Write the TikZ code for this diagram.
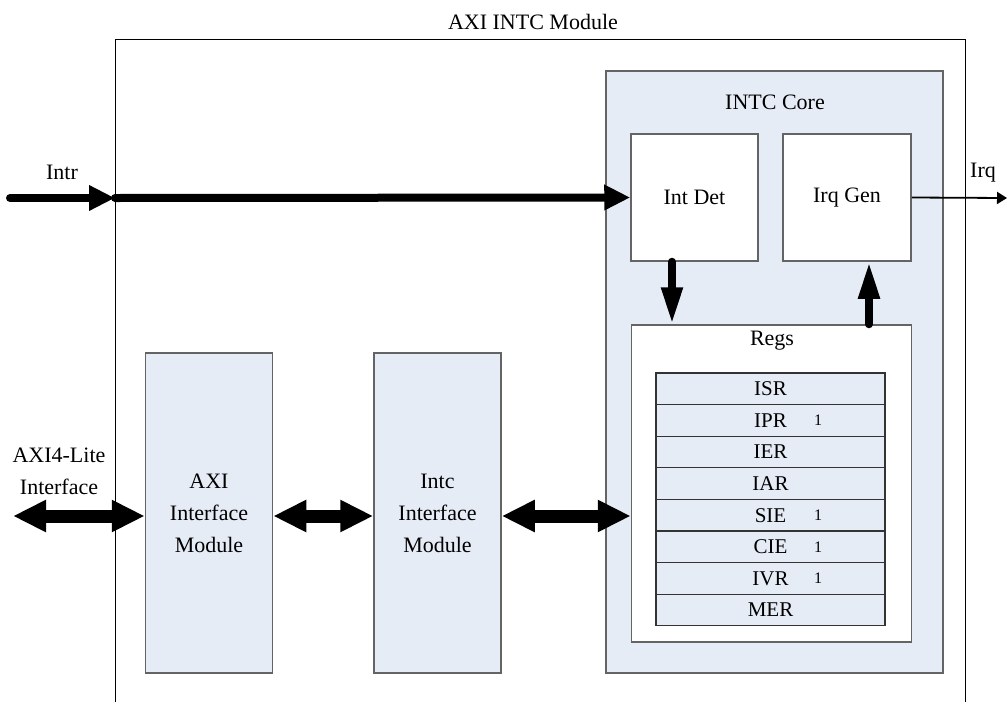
\documentclass[tikz,border=0pt]{standalone}
\usepackage{fontspec}
\setmainfont{Liberation Serif}
\usetikzlibrary{arrows.meta}
\definecolor{boxblue}{RGB}{230,236,246}
\definecolor{boxline}{RGB}{100,100,100}
\begin{document}
\begin{tikzpicture}[x=1pt,y=-1pt,
  lbl/.style={font=\fontsize{22}{32}\selectfont, align=center, inner sep=0pt},
  bluebox/.style={draw=boxline, line width=1.5pt, fill=boxblue, inner sep=0pt},
  whitebox/.style={draw=boxline, line width=1.5pt, fill=white, inner sep=0pt},
  regrow/.style={draw=black!80, line width=1.2pt, fill=boxblue, minimum width=229pt, minimum height=31.6pt, inner sep=0pt, font=\fontsize{21}{24}\selectfont},
  one/.style={font=\fontsize{16}{18}\selectfont, inner sep=0pt},
  fatarrow/.style={line width=8pt, line cap=round, -{Triangle[length=26pt,width=24pt]}},
  vertarrow/.style={line width=8pt, line cap=round, -{Triangle[length=37pt,width=20pt]}},
  dblarrow/.style={line width=13pt, {Triangle[length=33pt,width=30pt]}-{Triangle[length=33pt,width=30pt]}},
  thinarrow/.style={line width=1.8pt, -{Triangle[length=10pt,width=12pt]}}
]
\useasboundingbox (0,0) rectangle (1007,702);

% outer module box (open at the bottom)
\coordinate (oBL) at (115,702);
\coordinate (oTL) at (115,39);
\coordinate (oTR) at (965,39);
\coordinate (oBR) at (965,702);
\draw[line width=1pt] (oBL) -- (oTL) -- (oTR) -- (oBR);
\node[lbl] (title) at (533,22) {AXI INTC Module};

% INTC core
\node[bluebox, minimum width=337pt, minimum height=602pt] (core) at (774.5,372) {};
\node[lbl] (corelbl) at (775,102) {INTC Core};

\node[whitebox, minimum width=127pt, minimum height=127pt, lbl] (intdet) at (694.5,197.5) {Int Det};
\node[whitebox, minimum width=128pt, minimum height=127pt, lbl] (irqgen) at (847,197.5) {Irq Gen};

\node[whitebox, minimum width=280pt, minimum height=317pt] (regs) at (771.5,483.5) {};
\node[lbl] (regslbl) at (772,341) {Regs};

\node[regrow] (isr) at (770.5,388.8) {ISR};
\node[regrow] (ipr) at (770.5,420.4) {IPR};
\node[regrow] (ier) at (770.5,452.0) {IER};
\node[regrow] (iar) at (770.5,483.6) {IAR};
\node[regrow] (sie) at (770.5,515.2) {SIE};
\node[regrow] (cie) at (770.5,546.8) {CIE};
\node[regrow] (ivr) at (770.5,578.4) {IVR};
\node[regrow] (mer) at (770.5,610.0) {MER};
\node[one] (ipr1) at (818,420.4) {1};
\node[one] (sie1) at (818,515.2) {1};
\node[one] (cie1) at (818,546.8) {1};
\node[one] (ivr1) at (818,578.4) {1};

% interface modules
\node[bluebox, minimum width=127pt, minimum height=320pt, lbl] (axi) at (209,513) {AXI\\Interface\\Module};
\node[bluebox, minimum width=127pt, minimum height=320pt, lbl] (intc) at (437.5,513) {Intc\\Interface\\Module};

% labels
\node[lbl] (intrlbl) at (62,172) {Intr};
\node[lbl] (irqlbl) at (983,173) {Irq};
\node[lbl] (axilitelbl) at (59,471) {AXI4-Lite\\Interface};

% connectors
\coordinate (intrS) at (10,198);
\coordinate (intrB) at (115,198);
\draw[fatarrow] (intrS) -- (intrB);
\draw[fatarrow] (intrB) -- (intdet.west);

\draw[vertarrow] (intdet.south -| 672,0) -- (regs.north -| 672,0);
\draw[vertarrow] (regs.north -| 869,0) -- (irqgen.south -| 869,0);

\coordinate (irqE) at (1007,198);
\draw[thinarrow] (irqgen.east) -- (irqE);

\coordinate (axiS) at (13,516);
\draw[dblarrow] (axiS) -- (axi.west |- axiS);
\draw[dblarrow] (axi.east |- axiS) -- (intc.west |- axiS);
\draw[dblarrow] (intc.east |- axiS) -- (regs.west |- axiS);
\end{tikzpicture}
\end{document}
